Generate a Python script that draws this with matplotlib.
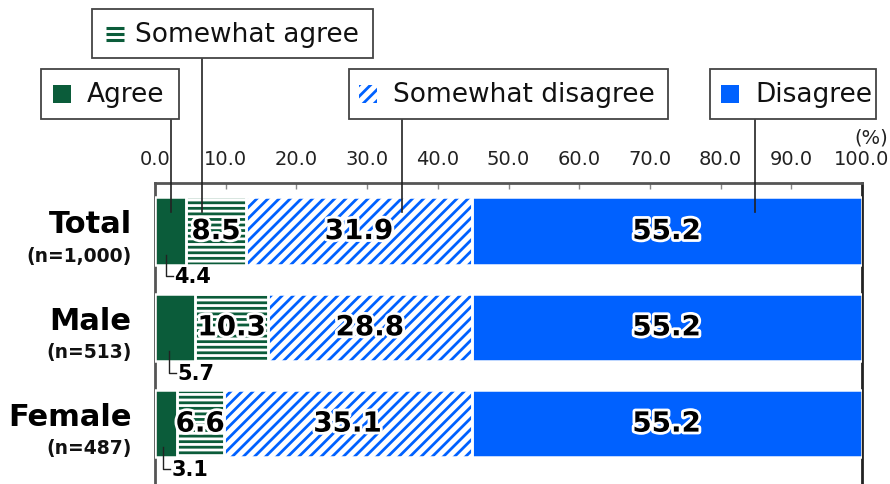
import matplotlib
matplotlib.use('Agg')
import matplotlib.pyplot as plt
import matplotlib.patheffects as pe
from matplotlib.patches import Rectangle

# data
groups = ['Total', 'Male', 'Female']
group_n = ['(n=1,000)', '(n=513)', '(n=487)']
series = ['Agree', 'Somewhat agree', 'Somewhat disagree', 'Disagree']
agree = [4.4, 5.7, 3.1]
somewhat_agree = [8.5, 10.3, 6.6]
somewhat_disagree = [31.9, 28.8, 35.1]
disagree = [55.2, 55.2, 55.2]
xticks = [0, 10, 20, 30, 40, 50, 60, 70, 80, 90, 100]

green = '#0b5c3a'
blue = '#0061ff'
plt.rcParams['font.family'] = ['DejaVu Sans']
plt.rcParams['hatch.linewidth'] = 2.0

fig = plt.figure(figsize=(8.9, 4.84), dpi=100)
ax = fig.add_axes([155 / 890, 0, 707 / 890, 1 - 183 / 484])

y = list(range(len(groups)))
h = 0.70
left = [0] * 3
styles = [
    dict(color=green),
    dict(facecolor='white', edgecolor=green, hatch='---'),
    dict(facecolor='white', edgecolor=blue, hatch='///'),
    dict(color=blue),
]
lefts = []
for vals, st in zip([agree, somewhat_agree, somewhat_disagree, disagree], styles):
    ax.barh(y, vals, height=h, left=left, linewidth=0, zorder=2, **st)
    ax.barh(y, vals, height=h, left=left, fill=False, edgecolor='white',
            linewidth=1.8, zorder=3)
    lefts.append(list(left))
    left = [l + v for l, v in zip(left, vals)]

stroke = [pe.withStroke(linewidth=4, foreground='white')]
for vals, lf in zip([somewhat_agree, somewhat_disagree, disagree], lefts[1:]):
    for i, v in enumerate(vals):
        ax.text(lf[i] + v / 2, i, f'{v:.1f}', ha='center', va='center',
                fontsize=20, fontweight='bold', color='black',
                path_effects=stroke, zorder=5)

# small labels for Agree with L-shaped leaders
for i, v in enumerate(agree):
    lx = v * 0.35
    ax.plot([lx, lx, lx + 1.0], [i + 0.245, i + 0.47, i + 0.47], color='#222222',
            lw=1.0, zorder=6, clip_on=False)
    ax.text(lx + 1.2, i + 0.48, f'{v:.1f}', ha='left', va='center',
            fontsize=15, fontweight='bold', color='black', zorder=6)

# group labels
for i, (g, n) in enumerate(zip(groups, group_n)):
    ax.text(-3.3, i - 0.065, g, ha='right', va='center', fontsize=22,
            fontweight='bold', color='black')
    ax.text(-3.3, i + 0.26, n, ha='right', va='center', fontsize=13.5,
            fontweight='bold', color='#111111')

ax.set_xlim(0, 100)
ax.set_ylim(-0.5 + 301 / 96.25, -0.5)
ax.set_yticks([])
ax.set_xticks(xticks)
ax.set_xticklabels([f'{t:.1f}' for t in xticks])
ax.xaxis.tick_top()
ax.tick_params(axis='x', direction='in', length=4, width=1, colors='#888888',
               labelcolor='#222222', labelsize=14, pad=10)
ax.spines['bottom'].set_visible(False)
for s in ['top', 'left']:
    ax.spines[s].set_color('#555555')
    ax.spines[s].set_linewidth(2)
ax.spines['right'].set_color('#222222')
ax.spines['right'].set_linewidth(2)

fig.text(888 / 890, 1 - 138 / 484, '(%)', ha='right', va='center',
         fontsize=14, color='#222222')

# legend boxes (pixel overlay)
lax = fig.add_axes([0, 0, 1, 1], facecolor='none')
lax.set_xlim(0, 890)
lax.set_ylim(484, 0)
lax.axis('off')

boxes = [(41, 69, 179, 119), (92, 9, 373, 58), (349, 69, 668, 119), (710, 69, 876, 119)]
text_x = [87, 135, 393, 755]
lead_x = [2.3, 6.6, 34.9, 84.9]
for k, (name, (x0, y0, x1, y1)) in enumerate(zip(series, boxes)):
    lax.add_patch(Rectangle((x0, y0), x1 - x0, y1 - y0, facecolor='white',
                            edgecolor='#444444', linewidth=1.3))
    cy = (y0 + y1) / 2
    if k == 1:
        for dy in (-6, 0, 6):
            lax.plot([106, 124], [cy + dy, cy + dy], color=green, lw=2.2,
                     solid_capstyle='butt')
    else:
        sx = text_x[k] - 34
        lax.add_patch(Rectangle((sx, cy - 9), 18, 18, linewidth=0,
                                **styles[k]))
    lax.text(text_x[k], cy + 1, name, ha='left', va='center', fontsize=19,
             color='#111111')
    # leader from box bottom into the Total bar
    ax.plot([lead_x[k], lead_x[k]], [-0.2, (y1 - 183) / 96.25 - 0.5],
            color='#222222', lw=1.2, zorder=7, clip_on=False)

fig.savefig('out.png', dpi=100)
